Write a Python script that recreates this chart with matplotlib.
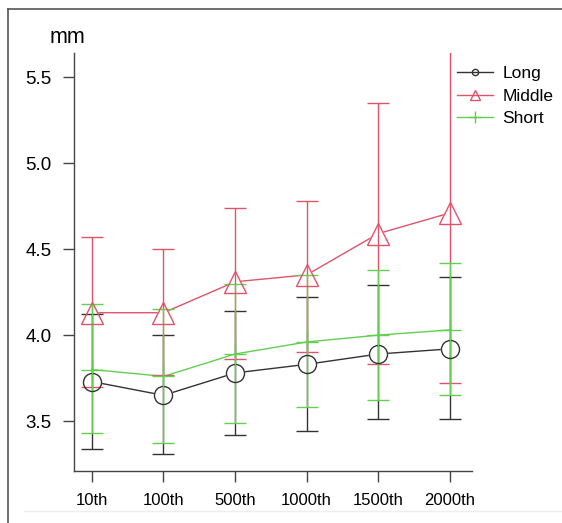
import matplotlib
matplotlib.use("Agg")
import matplotlib.pyplot as plt
from matplotlib.lines import Line2D
import numpy as np

plt.rcParams['font.family'] = ['Liberation Sans', 'DejaVu Sans']

# data
categories = ['10th', '100th', '500th', '1000th', '1500th', '2000th']

long_mean = [3.73, 3.65, 3.78, 3.83, 3.89, 3.92]
long_hi = [4.12, 4.00, 4.14, 4.22, 4.29, 4.34]
long_lo = [3.34, 3.31, 3.42, 3.44, 3.51, 3.51]

middle_mean = [4.13, 4.13, 4.31, 4.35, 4.59, 4.71]
middle_hi = [4.57, 4.50, 4.74, 4.78, 5.35, 5.70]
middle_lo = [3.70, 3.77, 3.86, 3.90, 3.83, 3.72]

short_mean = [3.80, 3.76, 3.89, 3.96, 4.00, 4.03]
short_hi = [4.18, 4.15, 4.30, 4.35, 4.38, 4.42]
short_lo = [3.43, 3.37, 3.49, 3.58, 3.62, 3.65]

series = [
    ('Long', long_mean, long_lo, long_hi, '#333333', 'o', 13, 4.5),
    ('Middle', middle_mean, middle_lo, middle_hi, '#DF536B', '^', 16, 6.5),
    ('Short', short_mean, short_lo, short_hi, '#61D04F', '+', 16, 8),
]

fig = plt.figure(figsize=(5.62, 5.23), dpi=100)
ax = fig.add_axes([74 / 562, 1 - 471 / 523, 398 / 562, 418 / 523])

x = np.arange(1, len(categories) + 1)
handles = []
for name, m, lo, hi, col, mk, ms, lms in series:
    m = np.array(m)
    ax.plot(x, m, color=col, lw=1, zorder=1)
    # white-filled markers give the R type="b" gaps around points
    if mk != '+':
        ax.plot(x, m, ls='none', marker=mk, ms=ms, mfc='white', mec='white', zorder=2)
    yerr = [m - np.array(lo), np.array(hi) - m]
    ax.errorbar(x, m, yerr=yerr, fmt='none', ecolor=col, elinewidth=1,
                capsize=8, capthick=1, zorder=3)
    ax.plot(x, m, ls='none', marker=mk, ms=ms, mfc='none', mec=col, mew=1, zorder=4)
    handles.append(Line2D([], [], color=col, lw=1, marker=mk, ms=lms, mfc='none', mec=col, mew=1))

ax.set_xlim(0.75, 6.31)
ax.set_ylim(3.21, 5.64)
ax.set_xticks(x)
ax.set_xticklabels(categories, fontsize=12)
ax.set_yticks([3.5, 4.0, 4.5, 5.0, 5.5])
ax.set_yticklabels(['3.5', '4.0', '4.5', '5.0', '5.5'], fontsize=13.5)
ax.tick_params(length=8, width=1, color='#444444', pad=8)
for s in ['top', 'right']:
    ax.spines[s].set_visible(False)
for s in ['left', 'bottom']:
    ax.spines[s].set_color('#444444')
    ax.spines[s].set_linewidth(1)

leg = ax.legend(handles, ['Long', 'Middle', 'Short'], loc='upper left',
                bbox_to_anchor=(457 / 562, 1 - 66 / 523), bbox_transform=fig.transFigure,
                frameon=False, fontsize=12.5, handlelength=2.1, handletextpad=0.5,
                labelspacing=0.42, borderpad=0, borderaxespad=0)

fig.text(50 / 562, 1 - 43 / 523, 'mm', fontsize=15.5, ha='left', va='baseline')

# screenshot frame
fig.add_artist(Line2D([8 / 562, 8 / 562], [0, 1 - 9 / 523], color='#555555', lw=1.2))
fig.add_artist(Line2D([8 / 562, 1], [1 - 9 / 523, 1 - 9 / 523], color='#555555', lw=1.2))
fig.add_artist(Line2D([24 / 562, 1], [1 - 511 / 523, 1 - 511 / 523], color='#eeeeee', lw=1))

fig.savefig('out.png', dpi=100)
